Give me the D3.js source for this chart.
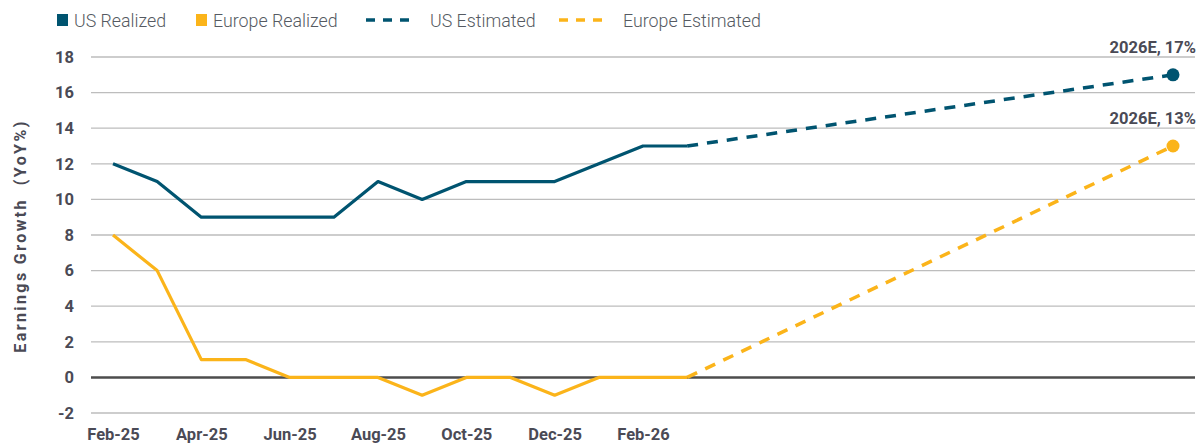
<!DOCTYPE html>
<html>
<head>
<meta charset="utf-8">
<script src="https://cdn.jsdelivr.net/npm/d3@7"></script>
<style>
  body { margin: 0; background: #fff; }
  svg { display: block; font-family: Roboto, "DejaVu Sans", sans-serif; }
</style>
</head>
<body>
<svg id="chart" width="1203" height="448"></svg>
<script>
// months on the category axis (labels only every second month up to Feb-26)
var months = ["Feb-25","Mar-25","Apr-25","May-25","Jun-25","Jul-25","Aug-25","Sep-25",
              "Oct-25","Nov-25","Dec-25","Jan-26","Feb-26","Mar-26","Apr-26","May-26",
              "Jun-26","Jul-26","Aug-26","Sep-26","Oct-26","Nov-26","Dec-26","Jan-27","Feb-27"];
var tickLabels = ["Feb-25","Apr-25","Jun-25","Aug-25","Oct-25","Dec-25","Feb-26"];
var yTicks = [-2,0,2,4,6,8,10,12,14,16,18];

var usRealized = [12,11,9,9,9,9,11,10,11,11,11,12,13,13];
var euRealized = [8,6,1,1,0,0,0,-1,0,0,-1,0,0,0];
var usEstimated = [{m:"Mar-26", v:13}, {m:"Feb-27", v:17}];
var euEstimated = [{m:"Mar-26", v:0}, {m:"Feb-27", v:13}];
var endLabels = [{m:"Feb-27", v:17, text:"2026E, 17%", color:"#005470"},
                 {m:"Feb-27", v:13, text:"2026E, 13%", color:"#fbb41a"}];

var US = "#005470", EU = "#fbb41a";
var svg = d3.select("#chart");

var x = d3.scalePoint().domain(months).range([113, 1173]);
var y = d3.scaleLinear().domain([-2, 18]).range([413, 57]);

// grid
svg.append("g").selectAll("line").data(yTicks).join("line")
  .attr("x1", 91).attr("x2", 1195)
  .attr("y1", d => y(d)).attr("y2", d => y(d))
  .attr("stroke", d => d === 0 ? "#4d4d4d" : "#bdbdbd")
  .attr("stroke-width", d => d === 0 ? 2.5 : 1.3);

// y axis
var yAxis = svg.append("g").attr("transform", "translate(74,0)")
  .call(d3.axisLeft(y).tickValues(yTicks).tickSize(0).tickPadding(0).tickFormat(d => String(d)));
yAxis.select(".domain").remove();
yAxis.selectAll("text").attr("font-size", 16.5).attr("font-weight", 700)
  .attr("fill", "#4a4a55").attr("font-family", "Roboto, sans-serif");

// x axis
var xAxis = svg.append("g").attr("transform", "translate(0,428)")
  .call(d3.axisBottom(x).tickValues(tickLabels).tickSize(0).tickPadding(0));
xAxis.select(".domain").remove();
xAxis.selectAll("text").attr("font-size", 16.5).attr("font-weight", 700)
  .attr("fill", "#4a4a55").attr("font-family", "Roboto, sans-serif");

// y axis title
svg.append("text")
  .attr("transform", "translate(26,236) rotate(-90)")
  .attr("text-anchor", "middle")
  .attr("font-size", 16).attr("font-weight", 700).attr("letter-spacing", 2.4)
  .attr("fill", "#4a4a55")
  .attr("xml:space", "preserve")
  .text("Earnings Growth  (YoY%)");

var line = d3.line().x(d => x(d.m)).y(d => y(d.v));
function toPts(arr) { return arr.map((v, i) => ({m: months[i], v: v})); }

svg.append("path").datum(toPts(usRealized)).attr("d", line)
  .attr("fill", "none").attr("stroke", US).attr("stroke-width", 3.2).attr("stroke-linejoin", "round");
svg.append("path").datum(toPts(euRealized)).attr("d", line)
  .attr("fill", "none").attr("stroke", EU).attr("stroke-width", 3.2).attr("stroke-linejoin", "round");
svg.append("path").datum(usEstimated).attr("d", line)
  .attr("fill", "none").attr("stroke", US).attr("stroke-width", 3.5).attr("stroke-dasharray", "11,9");
svg.append("path").datum(euEstimated).attr("d", line)
  .attr("fill", "none").attr("stroke", EU).attr("stroke-width", 3.5).attr("stroke-dasharray", "11,9");

// end markers and labels
svg.append("g").selectAll("circle").data(endLabels).join("circle")
  .attr("cx", d => x(d.m)).attr("cy", d => y(d.v)).attr("r", 6.5)
  .attr("fill", d => d.color);
svg.append("g").selectAll("text").data(endLabels).join("text")
  .attr("x", 1196).attr("y", d => y(d.v) - 22)
  .attr("text-anchor", "end")
  .attr("font-size", 16.5).attr("font-weight", 700).attr("fill", "#4a4a55")
  .text(d => d.text);

// legend
var legend = [
  {name: "US Realized", color: US, dash: false, x: 57},
  {name: "Europe Realized", color: EU, dash: false, x: 196},
  {name: "US Estimated", color: US, dash: true, x: 366},
  {name: "Europe Estimated", color: EU, dash: true, x: 559}
];
var lg = svg.append("g").selectAll("g").data(legend).join("g")
  .attr("transform", d => "translate(" + d.x + ",20)");
lg.filter(d => !d.dash).append("rect")
  .attr("x", 0).attr("y", -6).attr("width", 11).attr("height", 12)
  .attr("fill", d => d.color);
lg.filter(d => d.dash).append("line")
  .attr("x1", 0).attr("x2", 45).attr("y1", 0).attr("y2", 0)
  .attr("stroke", d => d.color).attr("stroke-width", 3.5).attr("stroke-dasharray", "9,8");
lg.append("text")
  .attr("x", d => d.dash ? 64 : 17).attr("y", 6.5)
  .attr("font-size", 17.8).attr("font-weight", 300).attr("fill", "#555a62")
  .text(d => d.name);
</script>
</body>
</html>
